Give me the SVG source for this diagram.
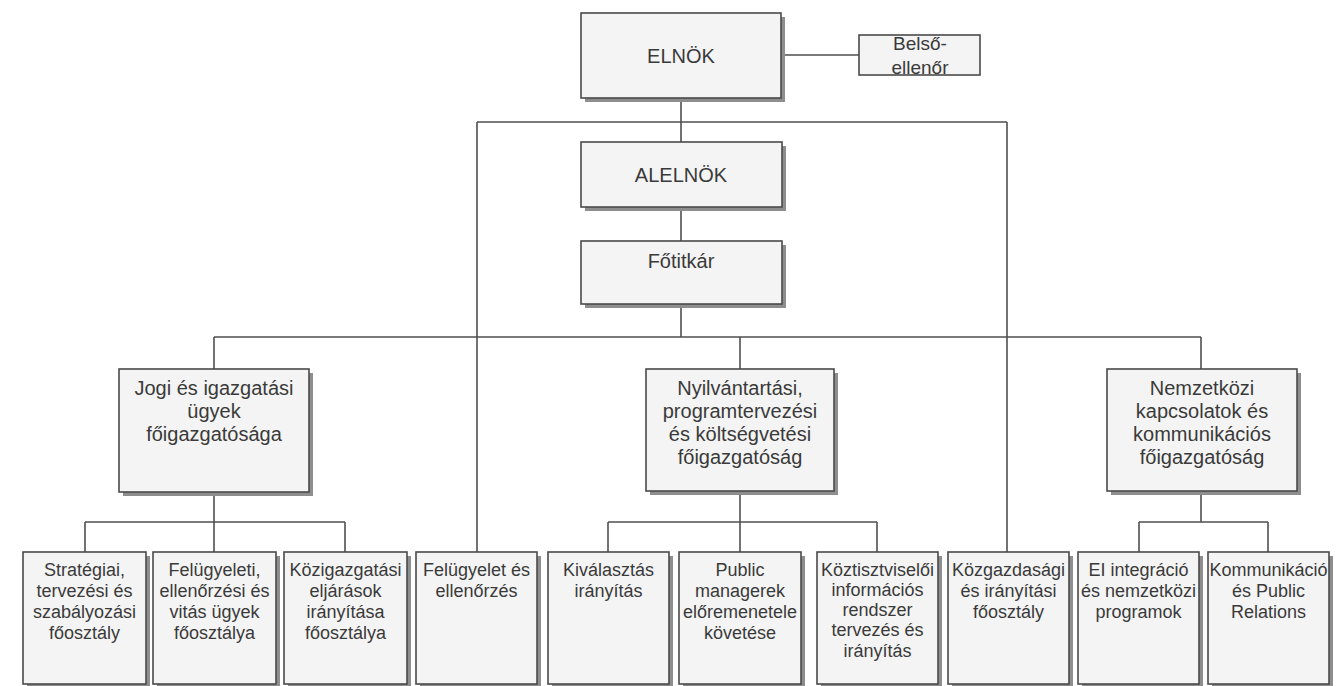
<svg xmlns="http://www.w3.org/2000/svg" width="1341" height="686" viewBox="0 0 1341 686">
<style>
.bg{fill:#ffffff}
.sh{fill:#8e8e8e}
.bx{fill:#f4f4f4;stroke:#4a4a4a;stroke-width:1.6}
.ln{fill:none;stroke:#505050;stroke-width:1.6}
text{font-family:"Liberation Sans",Arial,sans-serif;fill:#3a3a3a;text-anchor:middle}
.t20{font-size:20px}
.t19{font-size:19px}
.t18{font-size:18px}
</style>
<rect class="bg" x="0" y="0" width="1341" height="686"/>
<g id="connectors">
<path class="ln" d="M681,98 V142 M781,55 H859 M477,122 H1007 M477,122 V552 M1007,122 V552 M681,207 V241 M681,304 V337 M214,337 H1201 M214,337 V369 M740,337 V369 M1201,337 V369"/>
<path class="ln" d="M214,492 V522 M85,522 H345 M85,522 V552 M214,522 V552 M345,522 V552"/>
<path class="ln" d="M740,491 V522 M608,522 H877 M608,522 V552 M740,522 V552 M877,522 V552"/>
<path class="ln" d="M1201,491 V522 M1139,522 H1268 M1139,522 V552 M1268,522 V552"/>
</g>
<g id="elnok">
<rect class="sh" x="585" y="17" width="200" height="85"/>
<rect class="bx" x="581" y="13" width="200" height="85"/>
<text class="t20" x="681" y="63">ELNÖK</text>
</g>
<g id="belso-ellenor">
<rect class="bx" x="859" y="35" width="121" height="40"/>
<text class="t19" x="920" y="50">Belső-</text>
<text class="t19" x="920" y="74">ellenőr</text>
</g>
<g id="alelnok">
<rect class="sh" x="585" y="146" width="201" height="65"/>
<rect class="bx" x="581" y="142" width="201" height="65"/>
<text class="t20" x="681" y="182">ALELNÖK</text>
</g>
<g id="fotitkar">
<rect class="sh" x="585" y="245" width="201" height="63"/>
<rect class="bx" x="581" y="241" width="201" height="63"/>
<text class="t20" x="681" y="268">Főtitkár</text>
</g>
<g id="jogi">
<rect class="sh" x="123" y="373" width="190" height="123"/>
<rect class="bx" x="119" y="369" width="190" height="123"/>
<text class="t20" x="214" y="395">Jogi és igazgatási</text>
<text class="t20" x="214" y="418">ügyek</text>
<text class="t20" x="214" y="441">főigazgatósága</text>
</g>
<g id="nyilvantartasi">
<rect class="sh" x="650" y="373" width="188" height="122"/>
<rect class="bx" x="646" y="369" width="188" height="122"/>
<text class="t20" x="740" y="395">Nyilvántartási,</text>
<text class="t20" x="740" y="418">programtervezési</text>
<text class="t20" x="740" y="441">és költségvetési</text>
<text class="t20" x="740" y="464">főigazgatóság</text>
</g>
<g id="nemzetkozi">
<rect class="sh" x="1111" y="373" width="190" height="122"/>
<rect class="bx" x="1107" y="369" width="190" height="122"/>
<text class="t20" x="1202" y="395">Nemzetközi</text>
<text class="t20" x="1202" y="418">kapcsolatok és</text>
<text class="t20" x="1202" y="441">kommunikációs</text>
<text class="t20" x="1202" y="464">főigazgatóság</text>
</g>
<g id="strategiai">
<rect class="sh" x="27" y="556" width="123" height="132"/>
<rect class="bx" x="23" y="552" width="123" height="132"/>
<text class="t18" x="84.5" y="576">Stratégiai,</text>
<text class="t18" x="84.5" y="597">tervezési és</text>
<text class="t18" x="84.5" y="618">szabályozási</text>
<text class="t18" x="84.5" y="639">főosztály</text>
</g>
<g id="felugyeleti">
<rect class="sh" x="157" y="556" width="123" height="132"/>
<rect class="bx" x="153" y="552" width="123" height="132"/>
<text class="t18" x="214.5" y="576">Felügyeleti,</text>
<text class="t18" x="214.5" y="597">ellenőrzési és</text>
<text class="t18" x="214.5" y="618">vitás ügyek</text>
<text class="t18" x="214.5" y="639">főosztálya</text>
</g>
<g id="kozigazgatasi">
<rect class="sh" x="288" y="556" width="123" height="132"/>
<rect class="bx" x="284" y="552" width="123" height="132"/>
<text class="t18" x="345.5" y="576">Közigazgatási</text>
<text class="t18" x="345.5" y="597">eljárások</text>
<text class="t18" x="345.5" y="618">irányítása</text>
<text class="t18" x="345.5" y="639">főosztálya</text>
</g>
<g id="felugyelet-es-ellenorzes">
<rect class="sh" x="420" y="556" width="121" height="132"/>
<rect class="bx" x="416" y="552" width="121" height="132"/>
<text class="t18" x="476.5" y="576">Felügyelet és</text>
<text class="t18" x="476.5" y="597">ellenőrzés</text>
</g>
<g id="kivalasztas">
<rect class="sh" x="552" y="556" width="121" height="132"/>
<rect class="bx" x="548" y="552" width="121" height="132"/>
<text class="t18" x="608.5" y="576">Kiválasztás</text>
<text class="t18" x="608.5" y="597">irányítás</text>
</g>
<g id="public-managerek">
<rect class="sh" x="683" y="556" width="122" height="132"/>
<rect class="bx" x="679" y="552" width="122" height="132"/>
<text class="t18" x="740" y="576">Public</text>
<text class="t18" x="740" y="597">managerek</text>
<text class="t18" x="740" y="618">előremenetele</text>
<text class="t18" x="740" y="639">követése</text>
</g>
<g id="koztisztviseloi">
<rect class="sh" x="821" y="556" width="121" height="132"/>
<rect class="bx" x="817" y="552" width="121" height="132"/>
<text class="t18" x="877.5" y="576">Köztisztviselői</text>
<text class="t18" x="877.5" y="596">információs</text>
<text class="t18" x="877.5" y="616">rendszer</text>
<text class="t18" x="877.5" y="636">tervezés és</text>
<text class="t18" x="877.5" y="657">irányítás</text>
</g>
<g id="kozgazdasagi">
<rect class="sh" x="952" y="556" width="121" height="132"/>
<rect class="bx" x="948" y="552" width="121" height="132"/>
<text class="t18" x="1008.5" y="576">Közgazdasági</text>
<text class="t18" x="1008.5" y="597">és irányítási</text>
<text class="t18" x="1008.5" y="618">főosztály</text>
</g>
<g id="el-integracio">
<rect class="sh" x="1082" y="556" width="121" height="132"/>
<rect class="bx" x="1078" y="552" width="121" height="132"/>
<text class="t18" x="1138.5" y="576">EI integráció</text>
<text class="t18" x="1138.5" y="597">és nemzetközi</text>
<text class="t18" x="1138.5" y="618">programok</text>
</g>
<g id="kommunikacio">
<rect class="sh" x="1212" y="556" width="121" height="132"/>
<rect class="bx" x="1208" y="552" width="121" height="132"/>
<text class="t18" x="1268.5" y="576">Kommunikáció</text>
<text class="t18" x="1268.5" y="597">és Public</text>
<text class="t18" x="1268.5" y="618">Relations</text>
</g>
</svg>
